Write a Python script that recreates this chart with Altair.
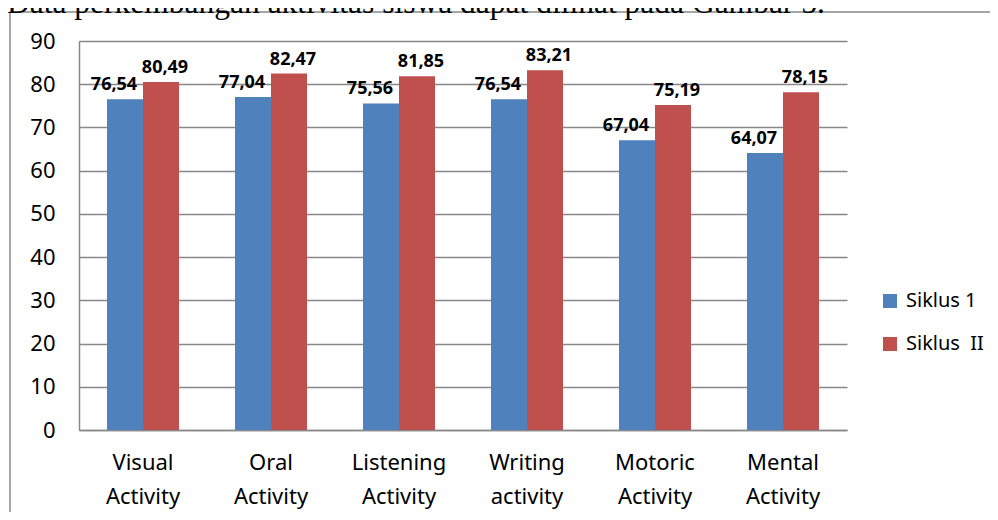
import altair as alt
import pandas as pd

categories = ["Visual Activity", "Oral Activity", "Listening Activity",
              "Writing activity", "Motoric Activity", "Mental Activity"]
siklus1 = [76.54, 77.04, 75.56, 76.54, 67.04, 64.07]
siklus2 = [80.49, 82.47, 81.85, 83.21, 75.19, 78.15]
series = ["Siklus 1", "Siklus \u00a0II"]
colors = ["#4F81BD", "#C0504D"]
y_ticks = [0, 10, 20, 30, 40, 50, 60, 70, 80, 90]
heading = "Data perkembangan aktivitas siswa dapat dilihat pada Gambar 5."

rows = []
for c, a, b in zip(categories, siklus1, siklus2):
    rows.append({"cat": c, "series": series[0], "value": a})
    rows.append({"cat": c, "series": series[1], "value": b})
df = pd.DataFrame(rows)

FONT = "Noto Sans"

x_enc = alt.X("cat:N", sort=categories, title=None,
              scale=alt.Scale(paddingInner=0.4375, paddingOuter=0.21875),
              axis=alt.Axis(labelAngle=0, labelExpr="split(datum.label, ' ')",
                            labelFontSize=22, labelFont=FONT, labelColor="#000",
                            labelLineHeight=34, labelPadding=22, ticks=False,
                            domainColor="#888", domainWidth=1.5, grid=False))
y_enc = alt.Y("value:Q", title=None,
              scale=alt.Scale(domain=[0, 90], nice=False),
              axis=alt.Axis(values=y_ticks, labelFontSize=22, labelFont=FONT,
                            labelColor="#000", labelPadding=24, ticks=False,
                            domainColor="#888", domainWidth=1.5,
                            gridColor="#888", gridWidth=1.5))
xo = alt.XOffset("series:N", sort=series, scale=alt.Scale(paddingInner=0, paddingOuter=0))

base = alt.Chart(df)

bars = base.mark_bar().encode(
    x=x_enc, y=y_enc, xOffset=xo,
    color=alt.Color("series:N", sort=series,
                    scale=alt.Scale(domain=series, range=colors),
                    legend=alt.Legend(title=None, orient="none", legendX=801, legendY=250,
                                      symbolType="square", symbolSize=196,
                                      symbolStrokeWidth=0,
                                      labelFontSize=20, labelFont=FONT, labelColor="#000",
                                      labelOffset=6, rowPadding=23, padding=0)),
)

lab = base.transform_calculate(
    lbl="replace(format(datum.value, '.2f'), '.', ',')"
)
t1 = lab.transform_filter(alt.datum.series == series[0]).mark_text(
    font=FONT, fontSize=18, fontWeight="bold", color="#000", dy=-9, dx=-11,
    baseline="alphabetic"
).encode(x=alt.X("cat:N", sort=categories), y="value:Q", xOffset=xo, text="lbl:N")
t2 = lab.transform_filter(alt.datum.series == series[1]).mark_text(
    font=FONT, fontSize=18, fontWeight="bold", color="#000", dy=-9, dx=4,
    baseline="alphabetic"
).encode(x=alt.X("cat:N", sort=categories), y="value:Q", xOffset=xo, text="lbl:N")

deco = alt.Chart(pd.DataFrame({"t": [heading]}))
head = deco.mark_text(font="Liberation Serif", fontSize=31.5, color="#000",
                      align="left", baseline="alphabetic").encode(
    x=alt.value(-72), y=alt.value(-28), text="t:N")
frame_top = deco.mark_rule(color="#888", strokeWidth=1.5).encode(
    x=alt.value(-69), x2=alt.value(950), y=alt.value(-29))
frame_left = deco.mark_rule(color="#888", strokeWidth=1.5).encode(
    x=alt.value(-69), y=alt.value(-29), y2=alt.value(500))

chart = alt.layer(frame_top, frame_left, head, bars, t1, t2).properties(
    width=768, height=389,
    autosize=alt.AutoSizeParams(type="none"),
    padding={"left": 71, "top": 33, "right": 143, "bottom": 82},
    background="white",
).configure_view(stroke=None)

chart.save("out.html", embed_options={"renderer": "svg", "actions": False})
